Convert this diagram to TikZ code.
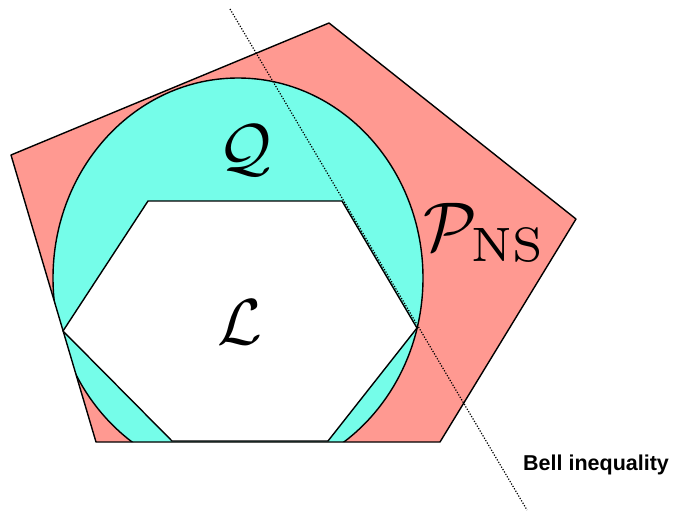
\documentclass[tikz,border=0pt]{standalone}
\usepackage{fontspec}
\newfontfamily\helv{Liberation Sans}
\definecolor{nspink}{RGB}{255,153,145}
\definecolor{qcyan}{RGB}{117,253,233}
\tikzset{
  edge/.style={line width=1.4pt, line join=round},
  biglabel/.style={inner sep=0pt, anchor=center},
  bell/.style={font=\helv\bfseries\fontsize{21.5}{24}\selectfont, inner sep=0pt, anchor=west}
}
\begin{document}
\begin{tikzpicture}[x=1pt,y=-1pt]
\useasboundingbox (0,0) rectangle (673,512);
% pentagon P_NS
\coordinate (p1) at (11,155);
\coordinate (p2) at (329,23);
\coordinate (p3) at (576,219);
\coordinate (p4) at (440,442);
\coordinate (p5) at (96,442);
% hexagon L
\coordinate (h1) at (148,201);
\coordinate (h2) at (342,201);
\coordinate (h3) at (417,328);
\coordinate (h4) at (328,441);
\coordinate (h5) at (172,441);
\coordinate (h6) at (63,331);
% ellipse centre
\coordinate (qc) at (238,278);
\fill[nspink] (p1)--(p2)--(p3)--(p4)--(p5)--cycle;
\begin{scope}
  \clip (p1)--(p2)--(p3)--(p4)--(p5)--cycle;
  \filldraw[fill=qcyan, edge] (qc) ellipse [x radius=185pt, y radius=200pt];
\end{scope}
\draw[edge] (p1)--(p2)--(p3)--(p4)--(p5)--cycle;
\filldraw[fill=white, edge] (h1)--(h2)--(h3)--(h4)--(h5)--(h6)--cycle;
% Bell inequality line
\coordinate (b1) at (230,9);
\coordinate (b2) at (527,510);
\draw[line width=1.2pt, dash pattern=on 1.2pt off 1.6pt] (b1) -- (b2);
% labels
\node[biglabel] (Q) at (245,150) {\scalebox{6.5}{$\mathcal{Q}$}};
\node[biglabel] (L) at (240,322) {\scalebox{6.5}{$\mathcal{L}$}};
\node[biglabel] (P) at (485,233) {\scalebox{6.9}{$\mathcal{P}_{\mathrm{NS}}$}};
\node[bell] (B) at (523,465) {Bell inequality};
\end{tikzpicture}
\end{document}
